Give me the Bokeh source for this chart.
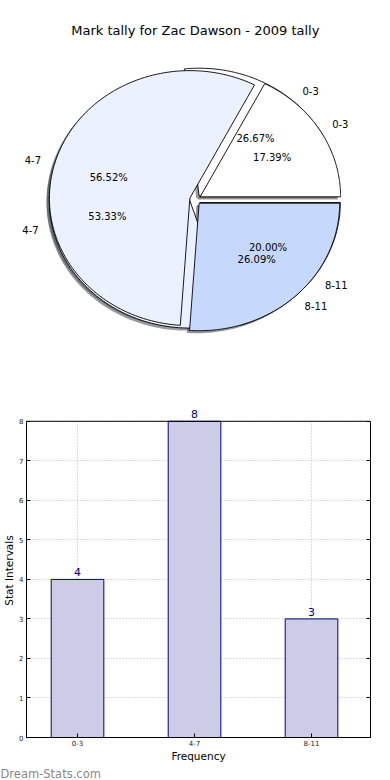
import numpy as np
from bokeh.plotting import figure
from bokeh.layouts import column, row
from bokeh.models import (Range1d, ColumnDataSource, LabelSet, LinearAxis, Span, Title,
                          FixedTicker)
from bokeh.core.properties import value
from bokeh.embed import file_html
from bokeh.resources import INLINE

# ---------------- data ----------------
title_text = "Mark tally for Zac Dawson - 2009 tally"
categories = ["0-3", "4-7", "8-11"]
tally_a = [4, 8, 3]      # 26.67% / 53.33% / 20.00%
tally_b = [4, 13, 6]     # 17.39% / 56.52% / 26.09%
bar_values = [4, 8, 3]
y_ticks = [0, 1, 2, 3, 4, 5, 6, 7, 8]
watermark = "Dream-Stats.com"

# ---------------- styles ----------------
slice_colors = ["#ffffff", "#ebf1fe", "#c6d9fc"]
explode = 0.04
FONT = "DejaVu Sans"

W = 390
PIE_H = 380
BAR_H = 400

# ---------------- pie ----------------
RX, RY, CX, CY = 140.5, 127.5, 194.8, 199.0
pie = figure(width=W, height=PIE_H, output_backend="svg", toolbar_location=None,
             x_range=Range1d(-CX / RX, (W - CX) / RX),
             y_range=Range1d(-(PIE_H - CY) / RY, CY / RY),
             x_axis_location=None, y_axis_location=None, min_border=0)
pie.grid.visible = False
pie.outline_line_color = None


def hex_to_rgb(h):
    h = h.lstrip("#")
    return tuple(int(h[i:i + 2], 16) for i in (0, 2, 4))


def wedges(vals):
    vals = np.asarray(vals, dtype=float)
    fr = vals / vals.sum()
    ends = np.cumsum(fr) * 2 * np.pi
    starts = np.concatenate([[0.0], ends[:-1]])
    xs, ys, mids, offs = [], [], [], []
    for s, e in zip(starts, ends):
        m = (s + e) / 2
        ox, oy = explode * np.cos(m), explode * np.sin(m)
        t = np.linspace(s, e, 120)
        xs.append(list(np.concatenate([[ox], ox + np.cos(t)])))
        ys.append(list(np.concatenate([[oy], oy + np.sin(t)])))
        mids.append(m)
        offs.append((ox, oy))
    return xs, ys, mids, offs, fr


pies = [wedges(tally_a), wedges(tally_b)]

for xs, ys, mids, offs, fr in pies:
    shcol = []
    for c in slice_colors:
        r, g, b = hex_to_rgb(c)
        shcol.append("#%02x%02x%02x" % (int(r * 0.3), int(g * 0.3), int(b * 0.3)))
    pie.patches(xs=[[x - 0.02 for x in xx] for xx in xs],
                ys=[[y - 0.02 for y in yy] for yy in ys],
                fill_color=shcol, fill_alpha=0.55, line_color=None)

for xs, ys, mids, offs, fr in pies:
    pie.patches(xs=xs, ys=ys, fill_color=slice_colors, line_color="black", line_width=0.9)

for xs, ys, mids, offs, fr in pies:
    lx, ly, lal, px, py, pt = [], [], [], [], [], []
    for m, (ox, oy), f in zip(mids, offs, fr):
        lx.append(ox + 1.1 * np.cos(m))
        ly.append(oy + 1.1 * np.sin(m))
        lal.append("left" if np.cos(m) > 0 else "right")
        px.append(ox + 0.6 * np.cos(m))
        py.append(oy + 0.6 * np.sin(m))
        pt.append("%.2f%%" % (f * 100))
    pie.text(x=lx, y=ly, text=categories, text_align=lal, text_baseline="middle",
             text_font=value(FONT), text_font_size="10px", text_color="black")
    pie.text(x=px, y=py, text=pt, text_align="center", text_baseline="middle",
             text_font=value(FONT), text_font_size="10px", text_color="black")

pie.text(x=[0.0], y=[(CY - 30) / RY], text=[title_text], text_align="center",
         text_baseline="middle", text_font=value(FONT), text_font_size="13px",
         text_color="black")

# ---------------- bar chart ----------------
xpos = list(range(len(categories)))
Y_TOP = max(y_ticks)
bar = figure(width=W, height=BAR_H, output_backend="svg", toolbar_location=None,
             x_range=Range1d(-0.436, 2.504), y_range=Range1d(0, Y_TOP + 0.45),
             min_border_left=0, min_border_right=20, min_border_top=23,
             min_border_bottom=30)
src = ColumnDataSource(dict(x=xpos, val=bar_values, lab=[str(v) for v in bar_values]))

# dotted vertical grid only up to the top of the box
bar.segment(x0=xpos, y0=[0] * len(xpos), x1=xpos, y1=[Y_TOP] * len(xpos),
            line_color="#b8b8b8", line_dash="1 2", line_width=1)
bar.xgrid.visible = False
bar.ygrid.ticker = FixedTicker(ticks=y_ticks)
bar.ygrid.grid_line_color = "#b8b8b8"
bar.ygrid.grid_line_dash = "1 2"
bar.ygrid.grid_line_width = 1

bar.vbar(x="x", top="val", width=0.45, source=src, fill_color="#ccccE6",
         line_color="#000080", line_width=1)
bar.add_layout(LabelSet(x="x", y="val", text="lab", source=src, text_align="center",
                        text_baseline="bottom", y_offset=3, text_color="#000080",
                        text_font=value(FONT), text_font_size="11px"))

bar.xaxis.ticker = FixedTicker(ticks=xpos)
bar.xaxis.major_label_overrides = {i: c for i, c in zip(xpos, categories)}
bar.yaxis.ticker = FixedTicker(ticks=y_ticks)
bar.yaxis.bounds = (0, Y_TOP)
bar.xaxis.axis_label = "Frequency"
bar.yaxis.axis_label = "Stat Intervals"
for ax in (bar.xaxis, bar.yaxis):
    ax.axis_label_text_font = FONT
    ax.axis_label_text_font_style = "normal"
    ax.axis_label_text_font_size = "10.5px"
    ax.axis_label_text_color = "black"
    ax.axis_label_standoff = 2
    ax.major_label_text_font = FONT
    ax.major_label_text_font_size = "7px"
    ax.major_label_text_color = "#222222"
    ax.major_label_standoff = 3
    ax.major_tick_in = 4
    ax.major_tick_out = 0
    ax.minor_tick_in = 0
    ax.minor_tick_out = 0
    ax.axis_line_color = "black"
    ax.major_tick_line_color = "black"
bar.yaxis.axis_label_standoff = 1
bar.xaxis.axis_label_standoff = 1
bar.xaxis.major_label_standoff = 2

# right border of the box, with inward ticks
right_ax = LinearAxis(ticker=FixedTicker(ticks=y_ticks), bounds=(0, Y_TOP),
                      major_tick_in=4, major_tick_out=0, minor_tick_in=0, minor_tick_out=0,
                      major_label_text_alpha=0, major_label_text_font_size="7px",
                      axis_line_color="black", major_tick_line_color="black")
bar.add_layout(right_ax, "right")
# top border of the box
bar.add_layout(Span(location=Y_TOP, dimension="width", line_color="black", line_width=1))
bar.outline_line_color = None

bar.add_layout(Title(text=watermark, align="left", offset=-26, text_color="#8a8a8a",
                     text_font=FONT, text_font_size="11.5px", text_font_style="normal",
                     standoff=0), "below")

layout = column(row(pie), row(bar), spacing=0)
open("out.html", "w").write(file_html(layout, INLINE))
